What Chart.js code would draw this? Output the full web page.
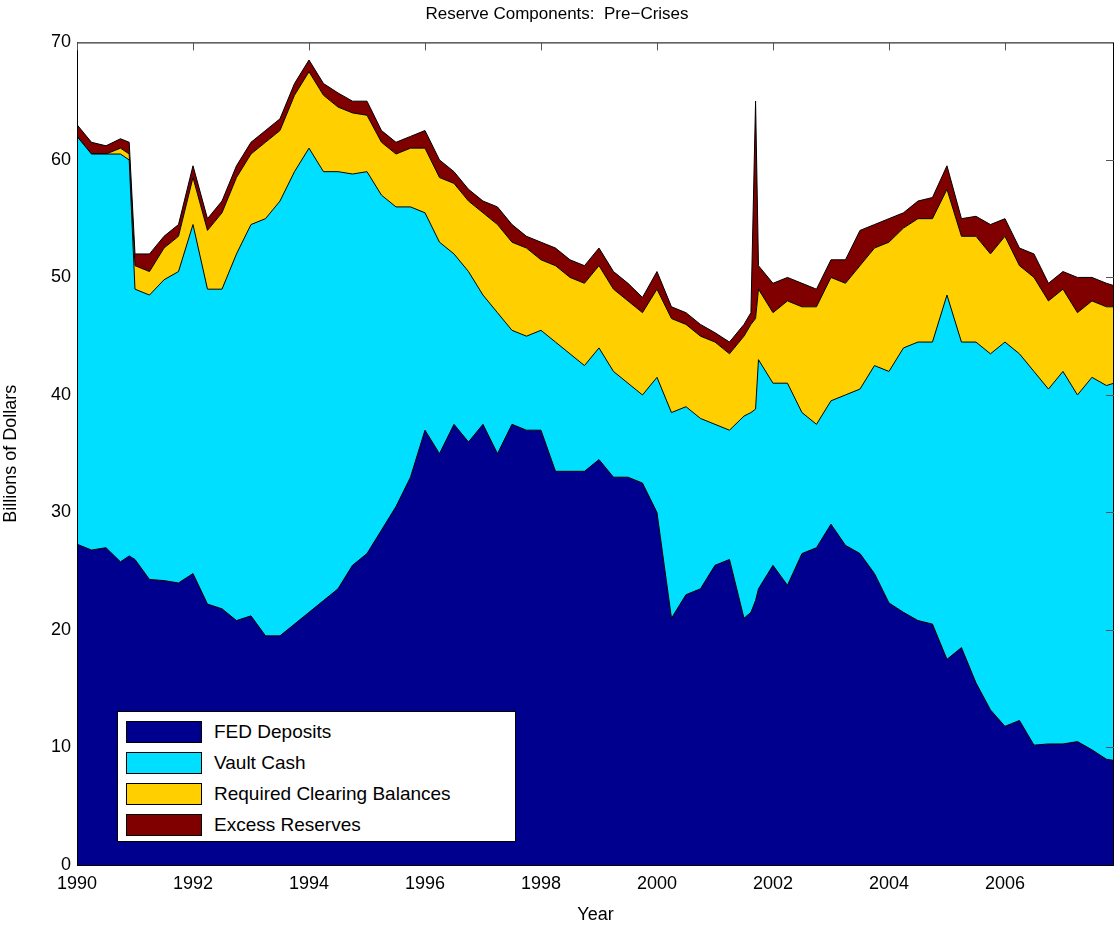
<!DOCTYPE html>
<html>
<head>
<meta charset="utf-8">
<script src="https://cdn.jsdelivr.net/npm/chart.js@4"></script>
<style>
  body { margin: 0; background: #fff; font-family: "Liberation Sans", Arial, sans-serif; }
  #wrap { position: relative; width: 1114px; height: 926px; }
  #legend { position: absolute; left: 117px; top: 711px; width: 399px; height: 131px;
    border: 1px solid #000; background: #fff; box-sizing: border-box; padding-top: 4px; }
  .row { display: flex; align-items: center; height: 31px; font-size: 19px; }
  .sw { width: 76px; height: 22px; margin: 0 12px 0 8px; border: 1px solid #000; box-sizing: border-box; }
</style>
</head>
<body>
<div id="wrap">
  <canvas id="c" width="1114" height="926"></canvas>
  <div id="legend"></div>
</div>
<script>
const years = [1990, 1990.25, 1990.5, 1990.75, 1990.9, 1991, 1991.25, 1991.5, 1991.75, 1992, 1992.25, 1992.5, 1992.75,
  1993, 1993.25, 1993.5, 1993.75, 1994, 1994.25, 1994.5, 1994.75, 1995, 1995.25, 1995.5, 1995.75,
  1996, 1996.25, 1996.5, 1996.75, 1997, 1997.25, 1997.5, 1997.75, 1998, 1998.25, 1998.5, 1998.75,
  1999, 1999.25, 1999.5, 1999.75, 2000, 2000.25, 2000.5, 2000.75, 2001, 2001.25, 2001.5, 2001.62, 2001.7, 2001.75,
  2002, 2002.25, 2002.5, 2002.75, 2003, 2003.25, 2003.5, 2003.75, 2004, 2004.25, 2004.5, 2004.75,
  2005, 2005.25, 2005.5, 2005.75, 2006, 2006.25, 2006.5, 2006.75, 2007, 2007.25, 2007.5, 2007.75, 2007.88];
const yearTicks = [1990, 1992, 1994, 1996, 1998, 2000, 2002, 2004, 2006];

// cumulative tops
const topFed = [27.3, 26.8, 27, 25.8, 26.3, 26, 24.3, 24.2, 24, 24.8, 22.2, 21.8, 20.8,
  21.2, 19.5, 19.5, 20.5, 21.5, 22.5, 23.5, 25.5, 26.5, 28.5, 30.5, 33,
  37, 35, 37.5, 36, 37.5, 35, 37.5, 37, 37, 33.5, 33.5, 33.5,
  34.5, 33, 33, 32.5, 30, 21, 23, 23.5, 25.5, 26, 21, 21.5, 22.5, 23.5,
  25.5, 23.8, 26.5, 27, 29, 27.2, 26.5, 24.8, 22.3, 21.5, 20.8, 20.5,
  17.5, 18.5, 15.5, 13.2, 11.8, 12.3, 10.2, 10.3, 10.3, 10.5, 9.8, 9, 8.9];
const topVault = [62, 60.5, 60.5, 60.5, 60, 49, 48.5, 49.8, 50.5, 54.5, 49, 49, 52,
  54.5, 55, 56.5, 59, 61, 59, 59, 58.8, 59, 57, 56, 56,
  55.5, 53, 52, 50.5, 48.5, 47, 45.5, 45, 45.5, 44.5, 43.5, 42.5,
  44, 42, 41, 40, 41.5, 38.5, 39, 38, 37.5, 37, 38.2, 38.5, 38.8, 43,
  41, 41, 38.5, 37.5, 39.5, 40, 40.5, 42.5, 42, 44, 44.5, 44.5,
  48.5, 44.5, 44.5, 43.5, 44.5, 43.5, 42, 40.5, 42, 40, 41.5, 40.8, 41];
const topClearing = [62, 60.5, 60.5, 61, 60.5, 51, 50.5, 52.5, 53.5, 58.5, 54, 55.5, 58.5,
  60.5, 61.5, 62.5, 65.5, 67.5, 65.5, 64.5, 64, 63.8, 61.5, 60.5, 61,
  61, 58.5, 58, 56.5, 55.5, 54.5, 53, 52.5, 51.5, 51, 50, 49.5,
  51, 49, 48, 47, 49, 46.5, 46, 45, 44.5, 43.5, 45, 46, 46.5, 49,
  47, 48, 47.5, 47.5, 50, 49.5, 51, 52.5, 53, 54.2, 55, 55,
  57.5, 53.5, 53.5, 52, 53.5, 51, 50, 48, 49, 47, 48, 47.5, 47.5];
const topTotal = [63, 61.5, 61.2, 61.8, 61.5, 52, 52, 53.5, 54.5, 59.5, 55, 56.5, 59.5,
  61.5, 62.5, 63.5, 66.5, 68.5, 66.5, 65.7, 65, 65, 62.5, 61.5, 62,
  62.5, 60, 59, 57.5, 56.5, 56, 54.5, 53.5, 53, 52.5, 51.5, 51,
  52.5, 50.5, 49.5, 48.3, 50.5, 47.5, 47, 46, 45.3, 44.5, 46, 47, 65, 51,
  49.5, 50, 49.5, 49, 51.5, 51.5, 54, 54.5, 55, 55.5, 56.5, 56.8,
  59.5, 55, 55.2, 54.5, 55, 52.5, 52, 49.5, 50.5, 50, 50, 49.5, 49.3];

const fedDeposits = topFed;
const vaultCash = topVault.map((v, i) => +(v - topFed[i]).toFixed(2));
const clearingBalances = topClearing.map((v, i) => +(v - topVault[i]).toFixed(2));
const excessReserves = topTotal.map((v, i) => +(v - topClearing[i]).toFixed(2));

const seriesNames = ['FED Deposits', 'Vault Cash', 'Required Clearing Balances', 'Excess Reserves'];
const seriesColors = ['#00008F', '#00DFFF', '#FFCF00', '#800000'];
const seriesData = [fedDeposits, vaultCash, clearingBalances, excessReserves];

const datasets = seriesData.map((vals, k) => ({
  label: seriesNames[k],
  data: vals.map((v, i) => ({ x: years[i], y: v })),
  backgroundColor: seriesColors[k],
  borderColor: '#000',
  borderWidth: 1,
  fill: k === 0 ? 'origin' : '-1',
  pointRadius: 0,
  tension: 0,
}));

const legend = document.getElementById('legend');
seriesNames.forEach((n, k) => {
  legend.insertAdjacentHTML('beforeend',
    `<div class="row"><div class="sw" style="background:${seriesColors[k]}"></div>${n}</div>`);
});

new Chart(document.getElementById('c'), {
  type: 'line',
  data: { datasets },
  options: {
    responsive: false,
    animation: false,
    plugins: {
      legend: { display: false },
      tooltip: { enabled: false },
      title: { display: true, text: 'Reserve Components:  Pre\u2212Crises', color: '#000',
        font: { size: 17, weight: 'normal', family: 'Liberation Sans' }, padding: { top: 4, bottom: 18 } },
    },
    scales: {
      x: {
        type: 'linear', min: 1990, max: 2007.88,
        afterFit: (a) => { a.height = 61; },
        afterBuildTicks: (a) => { a.ticks = yearTicks.map(v => ({ value: v })); },
        ticks: { autoSkip: false, maxRotation: 0, color: '#000', font: { size: 18, family: 'Liberation Sans' }, padding: 8,
          callback: (v) => String(v) },
        grid: { display: false, drawTicks: false },
        border: { color: '#000' },
        title: { display: true, text: 'Year', color: '#000', font: { size: 18, family: 'Liberation Sans' }, padding: 0 },
      },
      y: {
        stacked: true, min: 0, max: 70,
        afterFit: (a) => { a.width = 77; },
        ticks: { stepSize: 10, color: '#000', font: { size: 18, family: 'Liberation Sans' }, padding: 6 },
        grid: { display: false, drawTicks: false },
        border: { color: '#000' },
        title: { display: true, text: 'Billions of Dollars', color: '#000', font: { size: 18, family: 'Liberation Sans' }, padding: 0 },
      },
    },
  },
  plugins: [{
    id: 'box',
    afterDraw(chart) {
      const { ctx, chartArea: a, scales } = chart;
      ctx.save();
      ctx.strokeStyle = '#000';
      ctx.lineWidth = 1;
      ctx.strokeRect(a.left + 0.5, a.top + 0.5, a.right - a.left - 1, a.bottom - a.top);
      // inward tick marks on top and right edges, like the original
      ctx.strokeStyle = '#555';
      yearTicks.forEach(v => {
        const x = Math.round(scales.x.getPixelForValue(v)) + 0.5;
        ctx.beginPath(); ctx.moveTo(x, a.top); ctx.lineTo(x, a.top + 8); ctx.stroke();
      });
      for (let v = 10; v < 70; v += 10) {
        const y = Math.round(scales.y.getPixelForValue(v)) + 0.5;
        ctx.beginPath(); ctx.moveTo(a.right, y); ctx.lineTo(a.right - 8, y); ctx.stroke();
      }
      ctx.restore();
    },
  }],
});
</script>
</body>
</html>
